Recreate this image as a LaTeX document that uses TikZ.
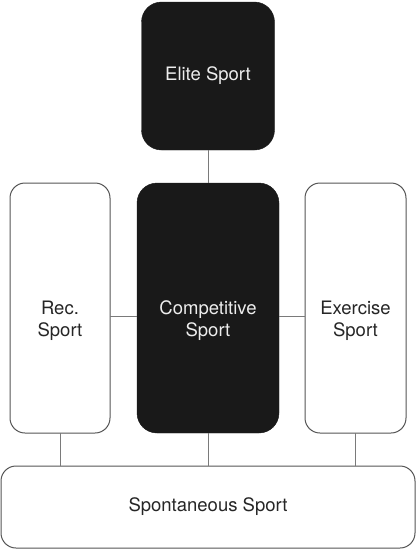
\documentclass[tikz,border=0pt]{standalone}
\usepackage{fontspec}
\setmainfont{TeX Gyre Heros}
\usepackage{tikz}
\usetikzlibrary{positioning}
\definecolor{boxblack}{HTML}{191919}
\definecolor{boxline}{HTML}{555555}
\definecolor{linkgray}{HTML}{7A7A7A}
\tikzstyle{darkbox}  = [rectangle, rounded corners=20pt, inner sep=0pt, outer sep=0pt, draw=boxblack, fill=boxblack, text=white!93!black]
\tikzstyle{lightbox} = [rectangle, rounded corners=15pt, inner sep=0pt, outer sep=0pt, draw=boxline, line width=1pt, fill=white, text=black!85]
\tikzstyle{boxtext}  = [align=center, inner sep=0pt, font=\fontsize{18.5}{22}\selectfont]
\tikzstyle{link}     = [draw=linkgray, line width=1pt]

\begin{document}
\begin{tikzpicture}[x=1pt, y=1pt, every node/.style={font=\fontsize{18.5}{22}\selectfont}]
  \useasboundingbox (0,0) rectangle (416,-550);

  % Middle row
  \node[darkbox, minimum width=142pt, minimum height=250pt,
        label={[boxtext, text=white!93!black, yshift=-13pt]center:Competitive\\Sport}] (comp) at (208,-308) {};
  \node[lightbox, minimum width=100pt, minimum height=250pt, left=27pt of comp,
        label={[boxtext, text=black!85, yshift=-13pt]center:Rec.\\Sport}] (rec) {};
  \node[lightbox, minimum width=101pt, minimum height=250pt, right=26pt of comp,
        label={[boxtext, text=black!85, yshift=-13pt]center:Exercise\\Sport}] (exer) {};

  % Top and bottom
  \node[darkbox, minimum width=133pt, minimum height=148pt, above=33pt of comp] (elite) {Elite Sport};
  \node[lightbox, minimum width=414pt, minimum height=82pt, below=33pt of comp] (spont) {Spontaneous Sport};

  % Links
  \draw[link] (elite) -- (comp);
  \draw[link] ([yshift=-8pt]rec.east) -- ([yshift=-8pt]comp.west);
  \draw[link] ([yshift=-8pt]comp.east) -- ([yshift=-8pt]exer.west);
  \draw[link] (rec.south) -- (rec.south |- spont.north);
  \draw[link] (comp) -- (spont);
  \draw[link] (exer.south) -- (exer.south |- spont.north);
\end{tikzpicture}
\end{document}
